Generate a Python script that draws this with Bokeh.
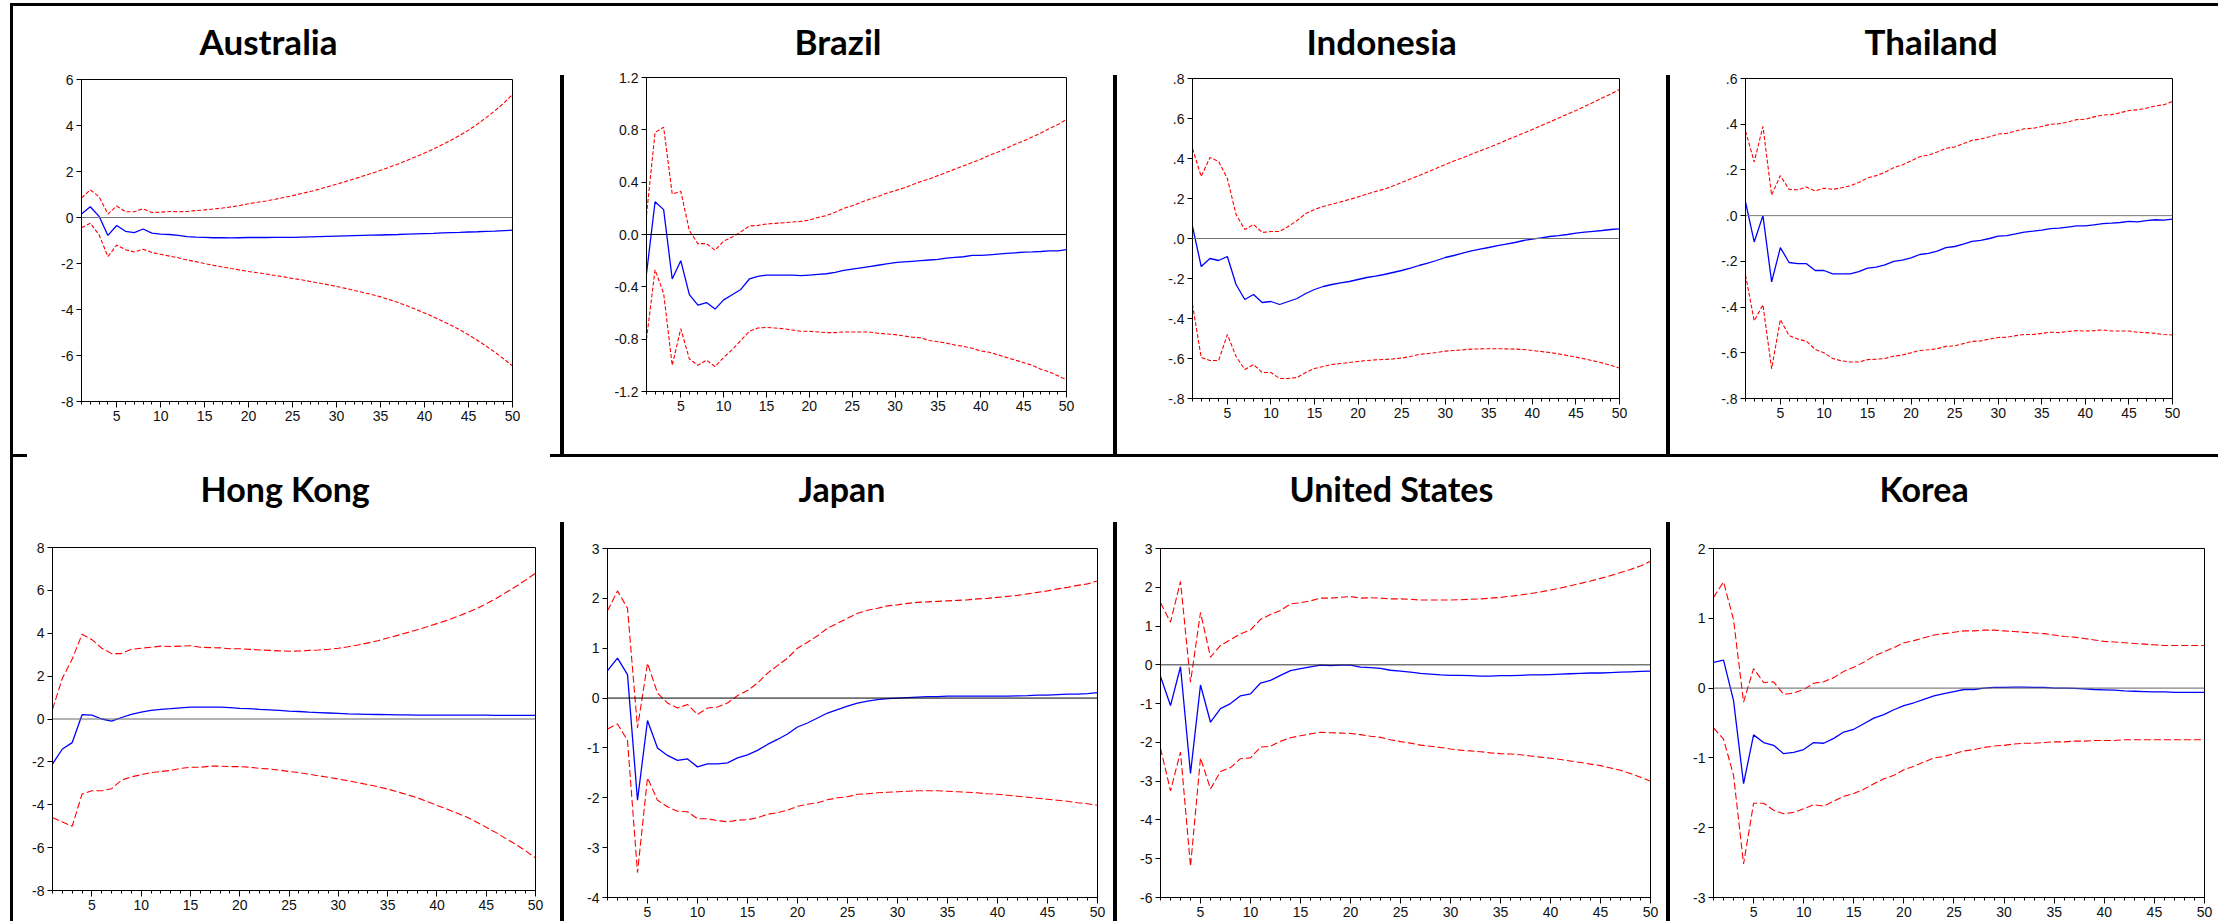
from bokeh.plotting import figure
from bokeh.models import Range1d, FixedTicker, Span, Spacer, Title
from bokeh.layouts import row, column
from bokeh.embed import file_html
from bokeh.resources import INLINE

periods = list(range(1, 51))
x_major_ticks = [5, 10, 15, 20, 25, 30, 35, 40, 45, 50]

# ---------------- Australia ----------------
aus_irf = [0.15, 0.47, 0.05, -0.78, -0.35, -0.6, -0.66, -0.5, -0.68, -0.72,
           -0.74, -0.78, -0.83, -0.85, -0.86, -0.88, -0.88, -0.89, -0.88, -0.87,
           -0.87, -0.87, -0.86, -0.86, -0.86, -0.85, -0.84, -0.83, -0.82, -0.81,
           -0.8, -0.79, -0.78, -0.77, -0.76, -0.75, -0.74, -0.72, -0.71, -0.7,
           -0.69, -0.67, -0.66, -0.65, -0.63, -0.62, -0.6, -0.59, -0.57, -0.55]
aus_upper = [0.85, 1.2, 0.9, 0.15, 0.5, 0.25, 0.25, 0.38, 0.22, 0.23,
             0.26, 0.25, 0.26, 0.3, 0.33, 0.37, 0.41, 0.46, 0.52, 0.6,
             0.66, 0.72, 0.79, 0.87, 0.95, 1.04, 1.13, 1.23, 1.34, 1.45,
             1.56, 1.68, 1.8, 1.92, 2.05, 2.19, 2.33, 2.48, 2.64, 2.8,
             2.98, 3.16, 3.36, 3.57, 3.8, 4.06, 4.34, 4.64, 4.97, 5.35]
aus_lower = [-0.45, -0.25, -0.75, -1.7, -1.2, -1.4, -1.5, -1.38, -1.52, -1.6,
             -1.68, -1.75, -1.85, -1.92, -2.0, -2.08, -2.15, -2.22, -2.28, -2.35,
             -2.4, -2.46, -2.52, -2.58, -2.65, -2.71, -2.78, -2.85, -2.92, -3.0,
             -3.08, -3.17, -3.26, -3.35, -3.45, -3.57, -3.7, -3.84, -3.99, -4.15,
             -4.32, -4.5, -4.68, -4.88, -5.1, -5.34, -5.59, -5.86, -6.15, -6.45]
aus_yticks = [-8, -6, -4, -2, 0, 2, 4, 6]
aus_ylabels = ["-8", "-6", "-4", "-2", "0", "2", "4", "6"]

# ---------------- Brazil ----------------
bra_irf = [-0.3, 0.25, 0.19, -0.34, -0.2, -0.46, -0.54, -0.52, -0.57, -0.5,
           -0.46, -0.42, -0.34, -0.32, -0.31, -0.31, -0.31, -0.31, -0.315, -0.31,
           -0.305, -0.3, -0.29, -0.275, -0.265, -0.255, -0.245, -0.235, -0.225, -0.215,
           -0.21, -0.205, -0.2, -0.195, -0.19, -0.18, -0.175, -0.17, -0.16, -0.16,
           -0.155, -0.15, -0.145, -0.14, -0.135, -0.133, -0.13, -0.125, -0.125, -0.115]
bra_upper = [0.15, 0.78, 0.82, 0.31, 0.33, 0.03, -0.07, -0.07, -0.12, -0.05,
             -0.02, 0.02, 0.065, 0.07, 0.08, 0.085, 0.09, 0.095, 0.1, 0.11,
             0.13, 0.145, 0.17, 0.2, 0.22, 0.245, 0.27, 0.29, 0.315, 0.335,
             0.355, 0.38, 0.405, 0.425, 0.45, 0.475, 0.5, 0.525, 0.55, 0.575,
             0.605, 0.63, 0.66, 0.69, 0.715, 0.745, 0.775, 0.81, 0.84, 0.88]
bra_lower = [-0.8, -0.27, -0.45, -1.0, -0.72, -0.95, -1.0, -0.96, -1.01, -0.94,
             -0.88, -0.81, -0.74, -0.715, -0.71, -0.715, -0.72, -0.73, -0.74, -0.74,
             -0.745, -0.75, -0.75, -0.745, -0.745, -0.745, -0.745, -0.755, -0.76, -0.765,
             -0.775, -0.785, -0.79, -0.81, -0.82, -0.83, -0.845, -0.855, -0.87, -0.89,
             -0.9, -0.92, -0.94, -0.96, -0.98, -1.0, -1.03, -1.05, -1.08, -1.11]
bra_yticks = [-1.2, -0.8, -0.4, 0.0, 0.4, 0.8, 1.2]
bra_ylabels = ["-1.2", "-0.8", "-0.4", "0.0", "0.4", "0.8", "1.2"]

# ---------------- Indonesia ----------------
ind_irf = [0.06, -0.14, -0.1, -0.11, -0.09, -0.23, -0.305, -0.28, -0.32, -0.315,
           -0.33, -0.315, -0.3, -0.275, -0.255, -0.24, -0.23, -0.222, -0.215, -0.205,
           -0.195, -0.188, -0.18, -0.17, -0.16, -0.148, -0.135, -0.123, -0.11, -0.095,
           -0.085, -0.073, -0.062, -0.053, -0.045, -0.036, -0.028, -0.02, -0.01, -0.003,
           0.003, 0.01, 0.014, 0.02, 0.027, 0.032, 0.036, 0.04, 0.045, 0.048]
ind_upper = [0.45, 0.31, 0.405, 0.385, 0.3, 0.12, 0.045, 0.07, 0.03, 0.035,
             0.035, 0.06, 0.09, 0.125, 0.145, 0.16, 0.172, 0.183, 0.195, 0.208,
             0.222, 0.235, 0.247, 0.262, 0.28, 0.297, 0.315, 0.333, 0.351, 0.37,
             0.387, 0.404, 0.421, 0.438, 0.455, 0.473, 0.491, 0.509, 0.527, 0.545,
             0.564, 0.583, 0.602, 0.621, 0.64, 0.66, 0.681, 0.702, 0.723, 0.745]
ind_lower = [-0.33, -0.595, -0.61, -0.61, -0.48, -0.59, -0.655, -0.63, -0.67, -0.67,
             -0.7, -0.7, -0.695, -0.67, -0.65, -0.64, -0.63, -0.625, -0.62, -0.615,
             -0.61, -0.607, -0.605, -0.602, -0.598, -0.59, -0.58, -0.575, -0.57, -0.563,
             -0.56, -0.557, -0.553, -0.552, -0.551, -0.551, -0.552, -0.553, -0.555, -0.56,
             -0.565, -0.57, -0.577, -0.585, -0.593, -0.602, -0.612, -0.622, -0.634, -0.648]
ind_yticks = [-0.8, -0.6, -0.4, -0.2, 0.0, 0.2, 0.4, 0.6, 0.8]
ind_ylabels = ["-.8", "-.6", "-.4", "-.2", ".0", ".2", ".4", ".6", ".8"]

# ---------------- Thailand ----------------
tha_irf = [0.06, -0.115, 0.0, -0.29, -0.14, -0.205, -0.21, -0.21, -0.24, -0.24,
           -0.255, -0.255, -0.255, -0.245, -0.23, -0.225, -0.215, -0.2, -0.195, -0.185,
           -0.17, -0.165, -0.155, -0.14, -0.135, -0.125, -0.113, -0.108, -0.1, -0.09,
           -0.087, -0.08, -0.072, -0.068, -0.063, -0.057, -0.055, -0.05, -0.045, -0.045,
           -0.04, -0.035, -0.033, -0.03, -0.025, -0.027, -0.022, -0.018, -0.02, -0.015]
tha_upper = [0.37, 0.235, 0.39, 0.09, 0.175, 0.115, 0.113, 0.125, 0.108, 0.12,
             0.115, 0.122, 0.13, 0.145, 0.165, 0.175, 0.19, 0.21, 0.222, 0.24,
             0.258, 0.265, 0.278, 0.295, 0.3, 0.315, 0.33, 0.335, 0.345, 0.357,
             0.36, 0.37, 0.38, 0.382, 0.39, 0.4, 0.402, 0.41, 0.42, 0.422,
             0.432, 0.44, 0.442, 0.45, 0.46, 0.463, 0.47, 0.48, 0.485, 0.5]
tha_lower = [-0.26, -0.46, -0.39, -0.67, -0.455, -0.525, -0.54, -0.55, -0.585, -0.6,
             -0.625, -0.635, -0.64, -0.64, -0.63, -0.628, -0.625, -0.615, -0.61, -0.6,
             -0.59, -0.587, -0.582, -0.572, -0.57, -0.56, -0.55, -0.548, -0.54, -0.533,
             -0.532, -0.525, -0.52, -0.52, -0.515, -0.51, -0.512, -0.507, -0.503, -0.505,
             -0.503, -0.5, -0.505, -0.505, -0.505, -0.51, -0.512, -0.515, -0.52, -0.522]
tha_yticks = [-0.8, -0.6, -0.4, -0.2, 0.0, 0.2, 0.4, 0.6]
tha_ylabels = ["-.8", "-.6", "-.4", "-.2", ".0", ".2", ".4", ".6"]

# ---------------- Hong Kong ----------------
hk_irf = [-2.1, -1.4, -1.1, 0.2, 0.18, 0.0, -0.1, 0.07, 0.22, 0.32,
          0.4, 0.45, 0.48, 0.52, 0.55, 0.55, 0.55, 0.55, 0.53, 0.5,
          0.48, 0.45, 0.43, 0.4, 0.37, 0.35, 0.32, 0.3, 0.28, 0.26,
          0.24, 0.23, 0.22, 0.21, 0.2, 0.19, 0.19, 0.18, 0.18, 0.18,
          0.18, 0.18, 0.18, 0.18, 0.18, 0.17, 0.17, 0.17, 0.17, 0.17]
hk_upper = [0.45, 1.9, 2.8, 3.95, 3.7, 3.3, 3.05, 3.05, 3.25, 3.3,
            3.35, 3.4, 3.38, 3.4, 3.42, 3.35, 3.33, 3.32, 3.28, 3.28,
            3.25, 3.22, 3.2, 3.18, 3.16, 3.17, 3.2, 3.22, 3.25, 3.3,
            3.37, 3.45, 3.55, 3.65, 3.78, 3.9, 4.03, 4.16, 4.3, 4.45,
            4.6, 4.77, 4.95, 5.15, 5.37, 5.62, 5.9, 6.18, 6.48, 6.8]
hk_lower = [-4.6, -4.8, -5.0, -3.5, -3.35, -3.35, -3.25, -2.85, -2.7, -2.6,
            -2.5, -2.45, -2.4, -2.3, -2.25, -2.25, -2.2, -2.2, -2.22, -2.22,
            -2.25, -2.3, -2.33, -2.38, -2.45, -2.5, -2.57, -2.65, -2.72, -2.8,
            -2.88, -2.97, -3.06, -3.16, -3.27, -3.4, -3.53, -3.67, -3.85, -4.03,
            -4.2, -4.38, -4.57, -4.8, -5.05, -5.3, -5.58, -5.85, -6.15, -6.48]
hk_yticks = [-8, -6, -4, -2, 0, 2, 4, 6, 8]
hk_ylabels = ["-8", "-6", "-4", "-2", "0", "2", "4", "6", "8"]

# ---------------- Japan ----------------
jpn_irf = [0.55, 0.8, 0.47, -2.05, -0.45, -1.0, -1.15, -1.25, -1.22, -1.38,
           -1.32, -1.32, -1.3, -1.2, -1.14, -1.05, -0.93, -0.83, -0.72, -0.58,
           -0.5, -0.4, -0.3, -0.23, -0.16, -0.1, -0.06, -0.03, -0.01, 0.0,
           0.01, 0.02, 0.03, 0.03, 0.04, 0.04, 0.04, 0.04, 0.04, 0.04,
           0.04, 0.045, 0.05, 0.06, 0.06, 0.07, 0.08, 0.08, 0.09, 0.11]
jpn_upper = [1.75, 2.15, 1.8, -0.6, 0.7, 0.1, -0.1, -0.2, -0.13, -0.33,
             -0.2, -0.18, -0.1, 0.05, 0.15, 0.3, 0.5, 0.65, 0.8, 1.0,
             1.12, 1.25, 1.4, 1.5, 1.6, 1.7, 1.76, 1.8, 1.85, 1.87,
             1.9, 1.92, 1.93, 1.94, 1.95, 1.96, 1.97, 1.99, 2.0, 2.02,
             2.04, 2.06, 2.09, 2.12, 2.15, 2.19, 2.22, 2.26, 2.29, 2.35]
jpn_lower = [-0.62, -0.52, -0.85, -3.5, -1.6, -2.05, -2.18, -2.27, -2.28, -2.42,
             -2.42, -2.46, -2.48, -2.45, -2.44, -2.4, -2.33, -2.3, -2.25, -2.17,
             -2.13, -2.1, -2.04, -2.0, -1.98, -1.93, -1.92, -1.9, -1.89, -1.88,
             -1.87, -1.86, -1.86, -1.86, -1.87, -1.88, -1.89, -1.9, -1.92, -1.93,
             -1.95, -1.97, -1.99, -2.01, -2.03, -2.05, -2.07, -2.1, -2.12, -2.15]
jpn_yticks = [-4, -3, -2, -1, 0, 1, 2, 3]
jpn_ylabels = ["-4", "-3", "-2", "-1", "0", "1", "2", "3"]

# ---------------- United States ----------------
us_irf = [-0.3, -1.05, -0.05, -2.8, -0.52, -1.48, -1.13, -1.0, -0.8, -0.75,
          -0.47, -0.4, -0.27, -0.15, -0.1, -0.05, -0.01, -0.02, -0.01, -0.01,
          -0.06, -0.07, -0.09, -0.14, -0.16, -0.19, -0.22, -0.24, -0.26, -0.27,
          -0.27, -0.28, -0.29, -0.29, -0.28, -0.28, -0.27, -0.26, -0.26, -0.25,
          -0.24, -0.23, -0.22, -0.21, -0.21, -0.2, -0.19, -0.18, -0.17, -0.16]
us_upper = [1.6, 1.1, 2.15, -0.45, 1.35, 0.2, 0.5, 0.65, 0.8, 0.9,
            1.17, 1.3, 1.4, 1.57, 1.6, 1.65, 1.72, 1.72, 1.74, 1.76,
            1.72, 1.73, 1.72, 1.7, 1.7, 1.69, 1.67, 1.67, 1.67, 1.67,
            1.68, 1.69, 1.7, 1.72, 1.74, 1.77, 1.8, 1.84, 1.88, 1.93,
            1.98, 2.04, 2.1, 2.16, 2.23, 2.3, 2.38, 2.46, 2.55, 2.67]
us_lower = [-2.15, -3.25, -2.25, -5.2, -2.4, -3.2, -2.75, -2.65, -2.42, -2.4,
            -2.12, -2.1, -1.97, -1.88, -1.83, -1.78, -1.74, -1.75, -1.76, -1.77,
            -1.8, -1.84, -1.87, -1.93, -1.98, -2.02, -2.07, -2.1, -2.13, -2.17,
            -2.2, -2.22, -2.24, -2.27, -2.29, -2.3, -2.32, -2.35, -2.38, -2.41,
            -2.44, -2.48, -2.52, -2.56, -2.6, -2.66, -2.72, -2.8, -2.9, -3.0]
us_yticks = [-6, -5, -4, -3, -2, -1, 0, 1, 2, 3]
us_ylabels = ["-6", "-5", "-4", "-3", "-2", "-1", "0", "1", "2", "3"]

# ---------------- Korea ----------------
kor_irf = [0.37, 0.4, -0.18, -1.37, -0.67, -0.78, -0.82, -0.94, -0.92, -0.88,
           -0.78, -0.79, -0.72, -0.63, -0.59, -0.51, -0.43, -0.38, -0.31, -0.25,
           -0.21, -0.16, -0.11, -0.08, -0.05, -0.02, -0.02, 0.0, 0.01, 0.01,
           0.015, 0.015, 0.01, 0.01, 0.0, 0.0, -0.005, -0.01, -0.02, -0.025,
           -0.03, -0.04, -0.045, -0.05, -0.055, -0.055, -0.06, -0.06, -0.06, -0.06]
kor_upper = [1.3, 1.52, 0.98, -0.2, 0.28, 0.08, 0.09, -0.09, -0.07, -0.02,
             0.07, 0.09, 0.15, 0.24, 0.3, 0.37, 0.46, 0.52, 0.58, 0.65,
             0.68, 0.72, 0.76, 0.78, 0.8, 0.82, 0.82, 0.83, 0.83, 0.82,
             0.81, 0.8, 0.79, 0.78, 0.76, 0.74, 0.73, 0.71, 0.69, 0.67,
             0.66, 0.65, 0.64, 0.63, 0.62, 0.61, 0.61, 0.61, 0.61, 0.61]
kor_lower = [-0.57, -0.73, -1.25, -2.52, -1.65, -1.65, -1.75, -1.8, -1.78, -1.73,
             -1.67, -1.69, -1.62, -1.55, -1.51, -1.45, -1.37, -1.3, -1.25, -1.17,
             -1.12, -1.06, -1.0, -0.98, -0.94, -0.9, -0.88, -0.85, -0.83, -0.82,
             -0.8, -0.79, -0.79, -0.78, -0.77, -0.77, -0.76, -0.76, -0.75, -0.75,
             -0.75, -0.74, -0.74, -0.74, -0.74, -0.74, -0.74, -0.74, -0.74, -0.74]
kor_yticks = [-3, -2, -1, 0, 1, 2]
kor_ylabels = ["-3", "-2", "-1", "0", "1", "2"]

TICK_FONT = "Liberation Sans"
TITLE_FONT = "Lato"
BLACK = {"background-color": "black"}


def bar(w, h, black=True):
    if black:
        return Spacer(width=w, height=h, styles=BLACK)
    return Spacer(width=w, height=h)


def panel(name, irf, upper, lower, yticks, ylabels, width, height, borders,
          title_offset, title_gap, title_size, zero_color, dash):
    mbl, mbr, mbt, mbb = borders
    p = figure(width=width, height=height, title=None,
               x_range=Range1d(1, 50), y_range=Range1d(yticks[0], yticks[-1]),
               output_backend="svg", toolbar_location=None,
               min_border_left=mbl, min_border_right=mbr,
               min_border_top=mbt, min_border_bottom=mbb,
               background_fill_color="white", border_fill_color="white")
    # invisible spacer panel between the frame and the title
    p.add_layout(Title(text=" ", text_font_size="1px", standoff=title_gap), "above")
    p.add_layout(Title(text=name, text_font=TITLE_FONT, text_font_size=title_size,
                       text_font_style="bold", text_color="black", align="left",
                       offset=title_offset, standoff=0), "above")
    p.grid.visible = False
    p.outline_line_color = "black"
    p.outline_line_width = 1
    p.outline_line_alpha = 1

    p.xaxis.ticker = FixedTicker(ticks=x_major_ticks, minor_ticks=periods)
    p.yaxis.ticker = FixedTicker(ticks=yticks)
    p.yaxis.major_label_overrides = {t: s for t, s in zip(yticks, ylabels)}
    for ax in (p.xaxis, p.yaxis):
        ax.axis_line_color = "black"
        ax.axis_line_width = 1
        ax.major_tick_line_color = "black"
        ax.minor_tick_line_color = "black"
        ax.major_tick_in = 0
        ax.minor_tick_in = 0
        ax.major_label_text_font = TICK_FONT
        ax.major_label_text_font_size = "14px"
        ax.major_label_text_color = "#111111"
    p.xaxis.major_tick_out = 6
    p.xaxis.minor_tick_out = 3
    p.xaxis.major_label_standoff = 3
    p.yaxis.major_tick_out = 5
    p.yaxis.minor_tick_out = 0
    p.yaxis.major_label_standoff = 3

    p.add_layout(Span(location=0, dimension="width", line_color=zero_color, line_width=1))
    p.line(periods, upper, line_color="#FF0000", line_width=1.1, line_dash=dash)
    p.line(periods, lower, line_color="#FF0000", line_width=1.1, line_dash=dash)
    p.line(periods, irf, line_color="#0000FF", line_width=1.3)
    return p


def cell(fig, width, top_pad, bottom_pad):
    kids = []
    if top_pad > 0:
        kids.append(bar(width, top_pad, black=False))
    kids.append(fig)
    if bottom_pad > 0:
        kids.append(bar(width, bottom_pad, black=False))
    return column(*kids)


R1_H = 448
R2_H = 464
M1, B1 = 71, 53      # common top / bottom borders, row 1
M2, B2 = 90, 24      # common top / bottom borders, row 2
COL_W = [547, 549, 549, 548]
DASH1 = "4 2"
DASH2 = "7 3"
T1 = "35px"
T2 = "34px"

# row 1: frame heights 322, 314, 320, 320 ; pads place frames at the reference rows
aus = panel("Australia", aus_irf, aus_upper, aus_lower, aus_yticks, aus_ylabels,
            COL_W[0], M1 + 322 + B1, (68, 48, M1, B1), 118, 15, T1, "#777777", DASH1)
bra = panel("Brazil", bra_irf, bra_upper, bra_lower, bra_yticks, bra_ylabels,
            COL_W[1], M1 + 314 + B1, (82, 47, M1, B1), 148, 13, T1, "black", DASH1)
ind = panel("Indonesia", ind_irf, ind_upper, ind_lower, ind_yticks, ind_ylabels,
            COL_W[2], M1 + 320 + B1, (75, 47, M1, B1), 114, 14, T1, "#777777", DASH1)
tha = panel("Thailand", tha_irf, tha_upper, tha_lower, tha_yticks, tha_ylabels,
            COL_W[3], M1 + 320 + B1, (75, 46, M1, B1), 119, 14, T1, "#777777", DASH1)
# row 2: frame heights 343, 349, 349, 349
hk = panel("Hong Kong", hk_irf, hk_upper, hk_lower, hk_yticks, hk_ylabels,
           COL_W[0], M2 + 343 + B2, (39, 25, M2, B2), 148, 36, T2, "#666666", DASH2)
jpn = panel("Japan", jpn_irf, jpn_upper, jpn_lower, jpn_yticks, jpn_ylabels,
            COL_W[1], M2 + 349 + B2, (43, 16, M2, B2), 191, 37, T2, "black", DASH2)
us = panel("United States", us_irf, us_upper, us_lower, us_yticks, us_ylabels,
           COL_W[2], M2 + 349 + B2, (43, 16, M2, B2), 129, 37, T2, "#333333", DASH2)
kor = panel("Korea", kor_irf, kor_upper, kor_lower, kor_yticks, kor_ylabels,
            COL_W[3], M2 + 349 + B2, (43, 14, M2, B2), 166, 37, T2, "#666666", DASH2)

c_aus = cell(aus, COL_W[0], 2, R1_H - 2 - aus.height)
c_bra = cell(bra, COL_W[1], 0, R1_H - 0 - bra.height)
c_ind = cell(ind, COL_W[2], 1, R1_H - 1 - ind.height)
c_tha = cell(tha, COL_W[3], 1, R1_H - 1 - tha.height)
c_hk = cell(hk, COL_W[0], 0, R2_H - 0 - hk.height)
c_jpn = cell(jpn, COL_W[1], 1, R2_H - 1 - jpn.height)
c_us = cell(us, COL_W[2], 1, R2_H - 1 - us.height)
c_kor = cell(kor, COL_W[3], 1, R2_H - 1 - kor.height)


def vsep(white_h, black_h):
    return column(bar(4, white_h, black=False), bar(4, black_h))


top_gap = bar(2218, 3, black=False)
top_line = row(bar(10, 3, black=False), bar(2208, 3))
row1 = row(bar(10, R1_H, black=False), bar(3, R1_H),
           c_aus, vsep(69, R1_H - 69), c_bra, vsep(69, R1_H - 69), c_ind, vsep(69, R1_H - 69), c_tha)
sep_line = row(bar(10, 3, black=False), bar(17, 3), bar(523, 3, black=False), bar(1668, 3))
row2 = row(bar(10, R2_H, black=False), bar(3, R2_H),
           c_hk, vsep(65, R2_H - 65), c_jpn, vsep(65, R2_H - 65), c_us, vsep(65, R2_H - 65), c_kor)

layout = column(top_gap, top_line, row1, sep_line, row2)

with open("out.html", "w") as f:
    f.write(file_html(layout, INLINE, title="Impulse responses"))
